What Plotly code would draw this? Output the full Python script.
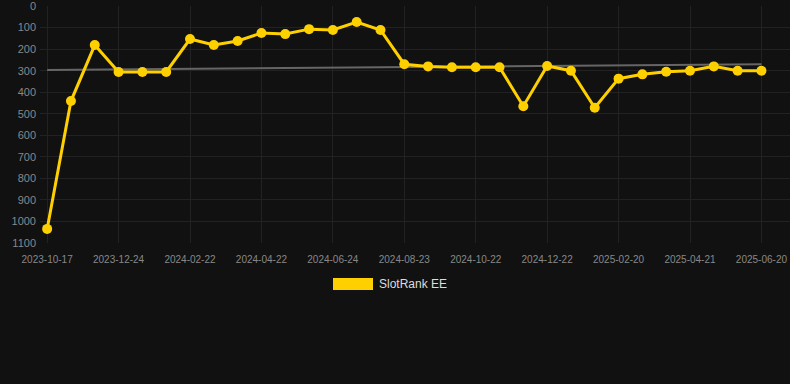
import plotly.graph_objects as go

dates = [
    "2023-10-17", "2023-11-08", "2023-12-01", "2023-12-24", "2024-01-13", "2024-02-02",
    "2024-02-22", "2024-03-13", "2024-04-02", "2024-04-22", "2024-05-13", "2024-06-03",
    "2024-06-24", "2024-07-14", "2024-08-03", "2024-08-23", "2024-09-12", "2024-10-02",
    "2024-10-22", "2024-11-11", "2024-12-01", "2024-12-22", "2025-01-11", "2025-01-31",
    "2025-02-20", "2025-03-12", "2025-04-01", "2025-04-21", "2025-05-11", "2025-05-31",
    "2025-06-20",
]
rank = [
    1035, 441, 181, 306, 306, 306, 153, 181, 162, 125, 130, 107, 111, 74, 111,
    270, 280, 284, 284, 284, 465, 278, 300, 472, 337, 317, 305, 300, 280, 300, 300,
]
trend_x = [dates[0], dates[-1]]
trend_y = [297, 270]
tick_labels = dates[::3]
y_ticks = list(range(0, 1101, 100))
series_name = "SlotRank EE"

GOLD = "#FFD000"
BG = "#111111"
GRID = "#222222"

fig = go.Figure()
fig.add_trace(go.Scatter(
    x=trend_x, y=trend_y, mode="lines",
    line=dict(color="#666666", width=2), showlegend=False, hoverinfo="skip",
))
fig.add_trace(go.Scatter(
    x=dates, y=rank, mode="lines+markers", name=series_name,
    line=dict(color=GOLD, width=3),
    marker=dict(color=GOLD, size=10),
    showlegend=False,
))

fig.update_layout(
    width=790, height=384,
    paper_bgcolor=BG, plot_bgcolor=BG,
    margin=dict(l=40, r=0, t=6, b=141),
    font=dict(family="Liberation Sans, Arial, sans-serif", color="#888888"),
    showlegend=False,
    shapes=[dict(type="rect", xref="paper", yref="paper",
                 x0=(333 - 40) / 750, x1=(373 - 40) / 750,
                 y0=(243 - 290) / 237, y1=(243 - 278) / 237,
                 fillcolor=GOLD, line=dict(width=0))],
    annotations=[dict(text=series_name, xref="paper", yref="paper",
                      x=(377 - 40) / 750, y=(243 - 284) / 237,
                      xanchor="left", yanchor="middle", showarrow=False,
                      font=dict(size=12, color="#DDDDDD"))],
)
fig.update_xaxes(
    type="category", categoryorder="array", categoryarray=dates,
    range=[-0.3, 31.2],
    tickmode="array", tickvals=tick_labels, ticktext=tick_labels,
    showgrid=True, gridcolor=GRID, gridwidth=1,
    zeroline=False, showline=False, ticks="",
    ticklabelstandoff=9, ticklabeloverflow="allow",
    tickfont=dict(size=10, color="#888888"),
)
fig.update_yaxes(
    range=[1100.5, -0.5], tickmode="array", tickvals=y_ticks,
    showgrid=True, gridcolor=GRID, gridwidth=1,
    zeroline=False, showline=False, ticks="",
    ticklabelstandoff=3, ticklabeloverflow="allow",
    tickfont=dict(size=11, color="#888888"),
)

fig.write_html(
    "out.html",
    config={"displayModeBar": False},
    post_script="document.body.style.margin='0';document.body.style.background='#111111';",
)
